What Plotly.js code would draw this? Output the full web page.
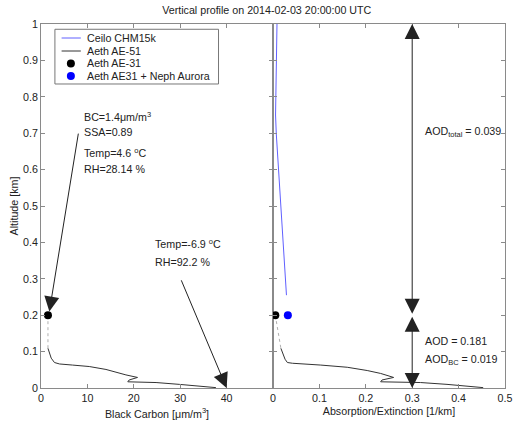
<!DOCTYPE html>
<html>
<head>
<meta charset="utf-8">
<script src="https://cdn.plot.ly/plotly-3.0.1.min.js"></script>
<style>html,body{margin:0;padding:0;background:#fff;}#chart{width:513px;height:424px;}</style>
</head>
<body>
<div id="chart"></div>
<script>
// ---- data ----
const altTicks = [0, 0.1, 0.2, 0.3, 0.4, 0.5, 0.6, 0.7, 0.8, 0.9, 1];
const bcTicks = [0, 10, 20, 30, 40];
const extTicks = [0, 0.1, 0.2, 0.3, 0.4, 0.5];

// Aeth AE-51 black carbon profile (left panel)
const ae51Alt = [0.109, 0.095, 0.082, 0.070, 0.066, 0.063, 0.059, 0.051, 0.042, 0.036, 0.029, 0.022, 0.017, 0.017, 0.015, 0.010, 0.0055, 0.001];
const ae51BC  = [1.5, 1.8, 2.2, 2.9, 4.0, 6.8, 10.4, 14.0, 16.5, 18.3, 20.8, 19.0, 18.7, 21.2, 24.8, 29.8, 34.1, 37.7];

// Aeth AE-51 absorption profile (right panel)
const absAlt = [0.109, 0.095, 0.079, 0.070, 0.068, 0.063, 0.057, 0.048, 0.040, 0.029, 0.022, 0.017, 0.017, 0.015, 0.010, 0.0055, 0.001];
const absExt = [0.017, 0.021, 0.026, 0.031, 0.042, 0.103, 0.160, 0.203, 0.232, 0.260, 0.235, 0.232, 0.268, 0.318, 0.375, 0.425, 0.453];

// Ceilo CHM15k extinction profile
const ceiloAlt = [1.0, 0.9, 0.8, 0.75, 0.7, 0.6, 0.5, 0.4, 0.3, 0.255];
const ceiloExt = [0.0086, 0.007, 0.005, 0.0055, 0.007, 0.012, 0.017, 0.022, 0.026, 0.029];

// point measurements at 0.2 km
const stationAlt = [0.2];
const ae31BC = [1.5];
const ae31Abs = [0.005];
const nephExt = [0.032];

// legend labels
const legendNames = ['Ceilo CHM15k', 'Aeth AE-51', 'Aeth AE-31', 'Aeth AE31 + Neph Aurora'];

const FONT = 'Liberation Sans, Arial, Helvetica, sans-serif';
const FS = 10.7;
const C_CEILO = '#6060ff', C_AE51 = '#333333', C_AE31 = '#000000', C_NEPH = '#0000ff', C_DOT = '#b0b0b0';

const traces = [
  {x: [ae31BC[0], ae51BC[0]], y: [stationAlt[0], ae51Alt[0]], xaxis: 'x', yaxis: 'y', mode: 'lines',
   line: {color: C_DOT, width: 1, dash: 'dot'}, hoverinfo: 'skip'},
  {x: [ae31Abs[0], absExt[0]], y: [stationAlt[0], absAlt[0]], xaxis: 'x2', yaxis: 'y2', mode: 'lines',
   line: {color: C_DOT, width: 1, dash: 'dot'}, hoverinfo: 'skip'},
  {name: legendNames[0], x: ceiloExt, y: ceiloAlt, xaxis: 'x2', yaxis: 'y2', mode: 'lines',
   line: {color: C_CEILO, width: 1}},
  {name: legendNames[1], x: ae51BC, y: ae51Alt, xaxis: 'x', yaxis: 'y', mode: 'lines',
   line: {color: C_AE51, width: 1}},
  {name: legendNames[1], x: absExt, y: absAlt, xaxis: 'x2', yaxis: 'y2', mode: 'lines',
   line: {color: C_AE51, width: 1}},
  {name: legendNames[2], x: ae31BC, y: stationAlt, xaxis: 'x', yaxis: 'y', mode: 'markers',
   marker: {color: C_AE31, size: 8}},
  {name: legendNames[2], x: ae31Abs, y: stationAlt, xaxis: 'x2', yaxis: 'y2', mode: 'markers',
   marker: {color: C_AE31, size: 8}},
  {name: legendNames[3], x: nephExt, y: stationAlt, xaxis: 'x2', yaxis: 'y2', mode: 'markers',
   marker: {color: C_NEPH, size: 8}}
];

const axCommon = {
  ticks: 'inside', ticklen: 4, tickcolor: '#8a8a8a', tickwidth: 1,
  showline: true, linecolor: '#8a8a8a', linewidth: 1, mirror: 'ticks',
  showgrid: false, zeroline: false, automargin: false, ticklabeloverflow: 'allow',
  tickfont: {family: FONT, size: FS, color: '#222'}
};

function txt(xref, yref, x, y, text) {
  return {xref: xref, yref: yref, x: x, y: y, text: text, showarrow: false,
          xanchor: 'left', yanchor: 'middle', font: {family: FONT, size: FS, color: '#222'}};
}
function arr(xref, yref, x, y, ax, ay, both) {
  return {xref: xref, yref: yref, axref: xref, ayref: yref, x: x, y: y, ax: ax, ay: ay, text: '',
          showarrow: true, arrowhead: 2, arrowsize: 3, arrowwidth: 1, arrowcolor: '#222',
          arrowside: both ? 'end+start' : 'end', startarrowhead: 2, startarrowsize: 3, standoff: 0, startstandoff: 0};
}

// hand-made legend (MATLAB style compact rows)
const legRows = [0.9615, 0.9258, 0.8915, 0.8571];
const legShapes = [
  {type: 'rect', xref: 'paper', yref: 'paper', x0: 0.030, x1: 0.3826, y0: 0.8352, y1: 0.9855,
   line: {color: '#777', width: 1}, fillcolor: '#fff', layer: 'above'},
  {type: 'line', xref: 'paper', yref: 'paper', x0: 0.0444, x1: 0.0858, y0: legRows[0], y1: legRows[0],
   line: {color: C_CEILO, width: 1}, layer: 'above'},
  {type: 'line', xref: 'paper', yref: 'paper', x0: 0.0444, x1: 0.0858, y0: legRows[1], y1: legRows[1],
   line: {color: C_AE51, width: 1}, layer: 'above'},
  {type: 'circle', xref: 'paper', yref: 'paper', xsizemode: 'pixel', ysizemode: 'pixel',
   xanchor: 0.0644, yanchor: legRows[2], x0: -4, x1: 4, y0: -4, y1: 4,
   line: {width: 0}, fillcolor: C_AE31, layer: 'above'},
  {type: 'circle', xref: 'paper', yref: 'paper', xsizemode: 'pixel', ysizemode: 'pixel',
   xanchor: 0.0644, yanchor: legRows[3], x0: -4, x1: 4, y0: -4, y1: 4,
   line: {width: 0}, fillcolor: C_NEPH, layer: 'above'}
];
const legTexts = legendNames.map((n, i) => txt('paper', 'paper', 0.095, legRows[i], n));

const layout = {
  width: 513, height: 424,
  margin: {l: 41, r: 8, t: 24, b: 36, pad: 0},
  paper_bgcolor: '#fff', plot_bgcolor: '#fff',
  font: {family: FONT, size: FS, color: '#222'},
  showlegend: false,
  title: {text: 'Vertical profile on 2014-02-03 20:00:00 UTC', x: 0.52, xanchor: 'center',
          y: 0.976, yanchor: 'middle', font: {family: FONT, size: FS, color: '#222'}},
  xaxis: Object.assign({}, axCommon, {domain: [0, 0.5], range: [0, 50], tickvals: bcTicks, anchor: 'y',
          title: {text: 'Black Carbon [μm/m<sup>3</sup>]', standoff: 7, font: {family: FONT, size: FS, color: '#222'}}}),
  xaxis2: Object.assign({}, axCommon, {domain: [0.5, 1], range: [0, 0.5], tickvals: extTicks, anchor: 'y2',
          title: {text: 'Absorption/Extinction [1/km]', standoff: 4, font: {family: FONT, size: FS, color: '#222'}}}),
  yaxis: Object.assign({}, axCommon, {range: [0, 1], tickvals: altTicks, anchor: 'x',
          title: {text: 'Altitude [km]', standoff: 2, font: {family: FONT, size: FS, color: '#222'}}}),
  yaxis2: Object.assign({}, axCommon, {range: [0, 1], tickvals: altTicks, anchor: 'x2', showticklabels: false}),
  shapes: legShapes,
  annotations: [
    txt('x', 'y', 8.9, 0.745, 'BC=1.4μm/m<sup>3</sup>'),
    txt('x', 'y', 8.9, 0.703, 'SSA=0.89'),
    txt('x', 'y', 8.9, 0.646, 'Temp=4.6 <sup>o</sup>C'),
    txt('x', 'y', 8.9, 0.602, 'RH=28.14 %'),
    txt('x', 'y', 24.2, 0.398, 'Temp=-6.9 <sup>o</sup>C'),
    txt('x', 'y', 24.2, 0.346, 'RH=92.2 %'),
    txt('x2', 'y2', 0.324, 0.703, 'AOD<sub>total</sub> = 0.039'),
    txt('x2', 'y2', 0.324, 0.129, 'AOD = 0.181'),
    txt('x2', 'y2', 0.324, 0.077, 'AOD<sub>BC</sub> = 0.019'),
    arr('x', 'y', 1.8, 0.21, 8.1, 0.703, false),
    arr('x', 'y', 40, 0, 30.1, 0.30, false),
    arr('x2', 'y2', 0.3, 1.0, 0.3, 0.2, true),
    arr('x2', 'y2', 0.3, 0.0, 0.3, 0.2, true)
  ].concat(legTexts)
};

Plotly.newPlot('chart', traces, layout, {displayModeBar: false, staticPlot: true});
</script>
</body>
</html>
